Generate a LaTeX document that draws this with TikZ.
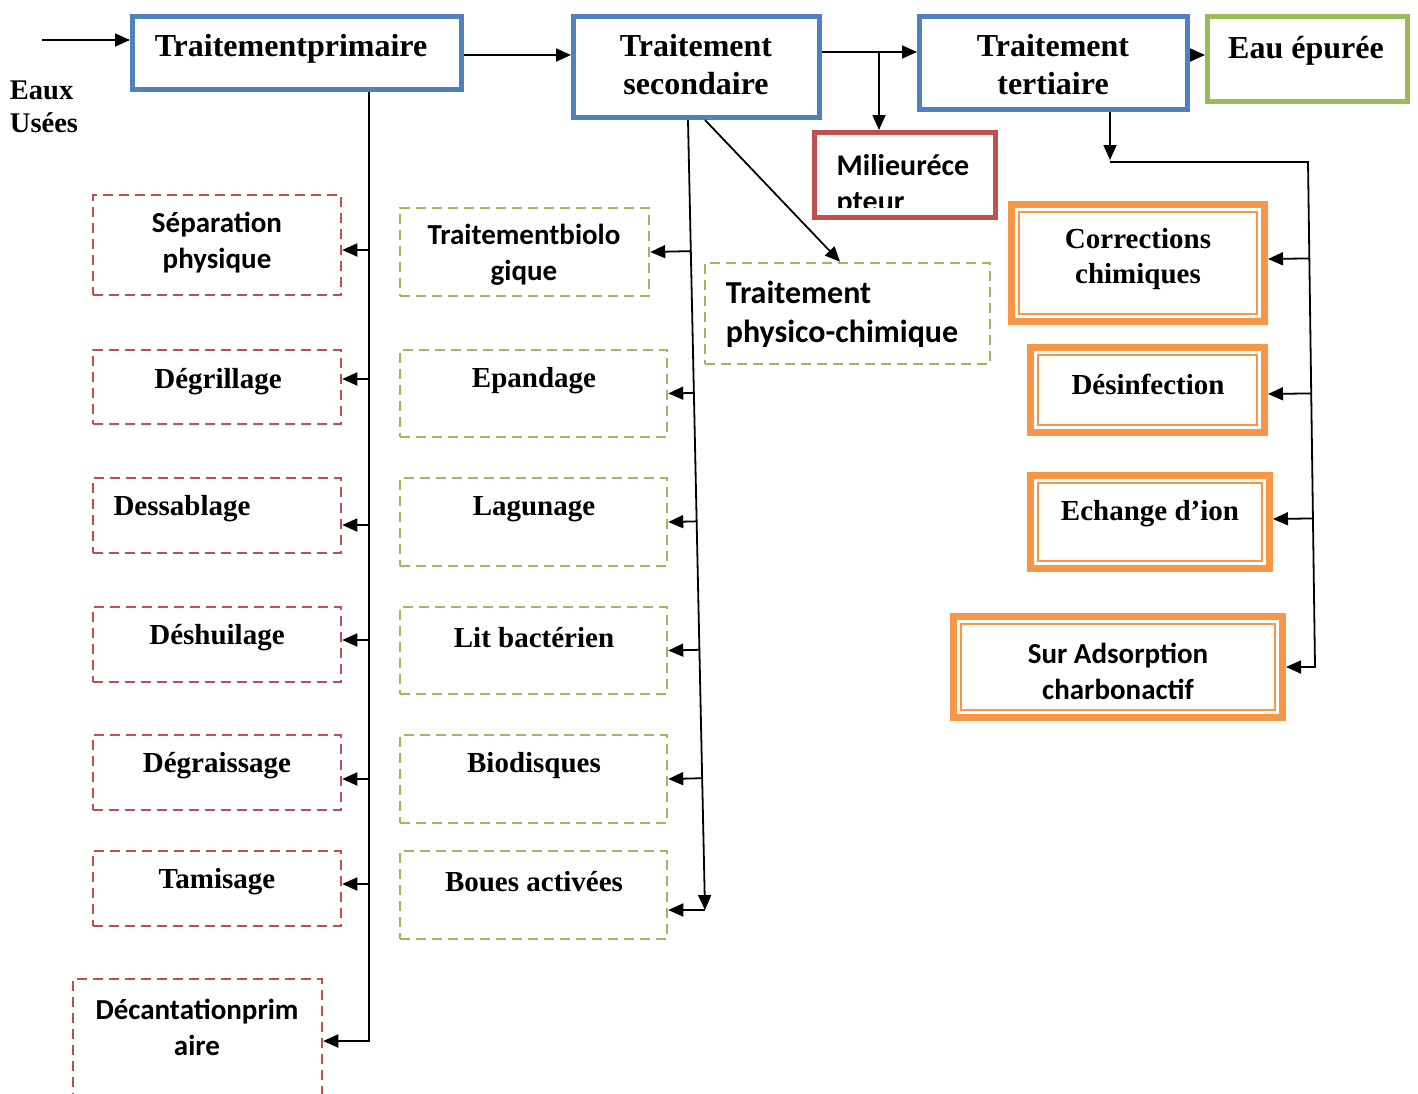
\documentclass[tikz,border=0pt]{standalone}
\usepackage{fontspec}
\setmainfont{Liberation Serif}
\newfontfamily\calibri{Carlito}
\usetikzlibrary{arrows.meta,calc}

\definecolor{offblue}{HTML}{4F81BD}
\definecolor{offgreen}{HTML}{9BBB59}
\definecolor{offred}{HTML}{C0504D}
\definecolor{offorange}{HTML}{F79646}

\tikzset{
  arr/.style={-{Triangle[length=15pt,width=13pt]}, line width=1.8pt},
  bluebox/.style={draw=offblue, line width=5pt},
  redbox/.style={draw=offred, line width=2.5pt, dash pattern=on 10pt off 6pt},
  greenbox/.style={draw=offgreen, line width=2.5pt, dash pattern=on 10pt off 6pt},
  orangebox/.style={draw=offorange, line width=7pt},
  innerline/.style={draw=offorange, line width=2pt},
  title/.style={font=\fontsize{32}{38}\selectfont\bfseries, align=center},
  serif/.style={font=\fontsize{29}{35}\selectfont\bfseries, align=center},
  sans/.style={font=\calibri\fontsize{29}{36}\selectfont\bfseries, align=center},
}

\begin{document}
\begin{tikzpicture}[x=1pt,y=-1pt]
  \useasboundingbox (0,0) rectangle (1418,1093);
  \clip (0,0) rectangle (1418,1093);

  \node[serif, align=left, font=\fontsize{28.5}{33}\selectfont\bfseries] (eaux) at (44,107) {Eaux\\Usées};

  \node[bluebox, minimum width=329pt, minimum height=73pt] (prim) at (297,53) {};
  \node[title] (prim-t) at (291,49) {Traitementprimaire};
  \node[bluebox, minimum width=246pt, minimum height=101pt] (sec) at (696.5,67) {};
  \node[title] (sec-t) at (696,65) {Traitement\\secondaire};
  \node[bluebox, minimum width=268pt, minimum height=93pt] (tert) at (1053.5,63) {};
  \node[title] (tert-t) at (1053,65) {Traitement\\tertiaire};
  \node[bluebox, draw=offgreen, minimum width=200pt, minimum height=85pt] (eau) at (1307.5,59) {};
  \node[title] (eau-t) at (1306,51) {Eau épurée};

  \node[bluebox, draw=offred, minimum width=181pt, minimum height=85pt] (mil) at (905,175) {};
  \begin{scope}
    \clip (817,135) rectangle (993,207);
    \node[sans, align=left, font=\calibri\fontsize{30}{36}\selectfont\bfseries] (mil-t) at (903,185) {Milieuréce\\pteur};
  \end{scope}

  \node[redbox, minimum width=248pt, minimum height=100pt] (sep) at (217,245) {};
  \node[sans] (sep-t) at (217,243) {Séparation\\physique};
  \node[redbox, minimum width=248pt, minimum height=74pt] (degr) at (217,387) {};
  \node[serif] (degr-t) at (218,382) {Dégrillage};
  \node[redbox, minimum width=248pt, minimum height=75pt] (dess) at (217,515.5) {};
  \node[serif] (dess-t) at (182,509) {Dessablage};
  \node[redbox, minimum width=248pt, minimum height=75pt] (desh) at (217,644.5) {};
  \node[serif] (desh-t) at (217,638) {Déshuilage};
  \node[redbox, minimum width=248pt, minimum height=75pt] (degra) at (217,772.5) {};
  \node[serif] (degra-t) at (217,766) {Dégraissage};
  \node[redbox, minimum width=248pt, minimum height=75pt] (tam) at (217,888.5) {};
  \node[serif] (tam-t) at (217,882) {Tamisage};
  \node[redbox, minimum width=249pt, minimum height=124pt] (dec) at (197.5,1041) {};
  \node[sans] (dec-t) at (197,1027) {Décantationprim\\aire};

  \node[greenbox, minimum width=249pt, minimum height=88pt] (bio) at (524.5,252) {};
  \node[sans] (bio-t) at (524,255) {Traitementbiolo\\gique};
  \node[greenbox, minimum width=267pt, minimum height=87pt] (epa) at (533.5,393.5) {};
  \node[serif] (epa-t) at (534,381) {Epandage};
  \node[greenbox, minimum width=267pt, minimum height=88pt] (lag) at (533.5,522) {};
  \node[serif] (lag-t) at (534,509) {Lagunage};
  \node[greenbox, minimum width=267pt, minimum height=87pt] (lit) at (533.5,650.5) {};
  \node[serif] (lit-t) at (534,638) {Lit bactérien};
  \node[greenbox, minimum width=267pt, minimum height=88pt] (biod) at (533.5,779) {};
  \node[serif] (biod-t) at (534,766) {Biodisques};
  \node[greenbox, minimum width=267pt, minimum height=88pt] (boues) at (533.5,895) {};
  \node[serif] (boues-t) at (534,882) {Boues activées};
  \node[greenbox, minimum width=285pt, minimum height=101pt] (phys) at (847.5,313.5) {};
  \node[sans, align=left, font=\calibri\fontsize{32}{39}\selectfont\bfseries] (phys-t) at (842,314) {Traitement\\physico-chimique};

  \node[orangebox, minimum width=253pt, minimum height=117pt] (corr) at (1138,263) {};
  \node[serif] (corr-t) at (1138,259) {Corrections\\chimiques};
  \node[orangebox, minimum width=234pt, minimum height=85pt] (desinf) at (1147.5,390) {};
  \node[serif] (desinf-t) at (1148,384) {Désinfection};
  \node[orangebox, minimum width=239pt, minimum height=93pt] (ech) at (1150,522) {};
  \node[serif] (ech-t) at (1150,514) {Echange d’ion};
  \node[orangebox, minimum width=329pt, minimum height=101pt] (ads) at (1118,667) {};
  \node[sans] (ads-t) at (1118,671) {Sur Adsorption\\charbonactif};
  \foreach \n in {corr,desinf,ech,ads}
    \draw[innerline] ([shift={(11,11)}]\n.north west) rectangle ([shift={(-11,-11)}]\n.south east);

  \coordinate (in) at (42,40);
  \draw[arr] (in) -- (in -| prim.west);
  \draw[arr] ([yshift=-2]prim.east) -- ([yshift=-2]prim.east -| sec.west);
  \coordinate (b1) at ([yshift=15]sec.east);
  \draw[arr] (b1) -- (b1 -| tert.west);
  \coordinate (fork) at (879,52);
  \draw[arr] (fork) -- (fork |- mil.north);
  \draw[arr] ([yshift=8]tert.east) -- ([yshift=8]tert.east -| eau.west);

  \coordinate (p0) at ([xshift=72]prim.south);
  \draw[arr] (p0) |- (dec.east);
  \foreach \n/\d in {sep/-5,degr/8,dess/-9.5,desh/4.5,degra/-6.5,tam/4.5} {
    \coordinate (e) at ([yshift=\d]\n.east);
    \draw[arr] (e -| p0) -- (e);
  }

  \coordinate (s1) at ([xshift=-8.5]sec.south);
  \coordinate (s2) at (705,910);
  \draw[arr] (s1) -- (s2);
  \draw[arr] (s2) -- (s2 -| boues.east);
  \foreach \n in {bio,epa,lag,lit,biod}
    \draw[arr] ($(s1)!(\n.east)!(s2)$) -- (\n.east);
  \draw[arr] ([xshift=8.5]sec.south) -- ([xshift=-7.5]phys.north);

  \coordinate (t0) at ([xshift=56.5]tert.south);
  \coordinate (t1) at (1110,162);
  \coordinate (t2) at (1308,162);
  \coordinate (t3) at (1315,667);
  \draw[arr] (t0) -- ([yshift=2]t1);
  \draw[arr] (t1) -- (t2) -- (t3) -- (ads.east);
  \foreach \n/\d in {corr/4,desinf/-4,ech/3} {
    \coordinate (e) at ([yshift=\d]\n.east);
    \draw[arr] ($(t2)!(e)!(t3)$) -- (e);
  }
\end{tikzpicture}
\end{document}
